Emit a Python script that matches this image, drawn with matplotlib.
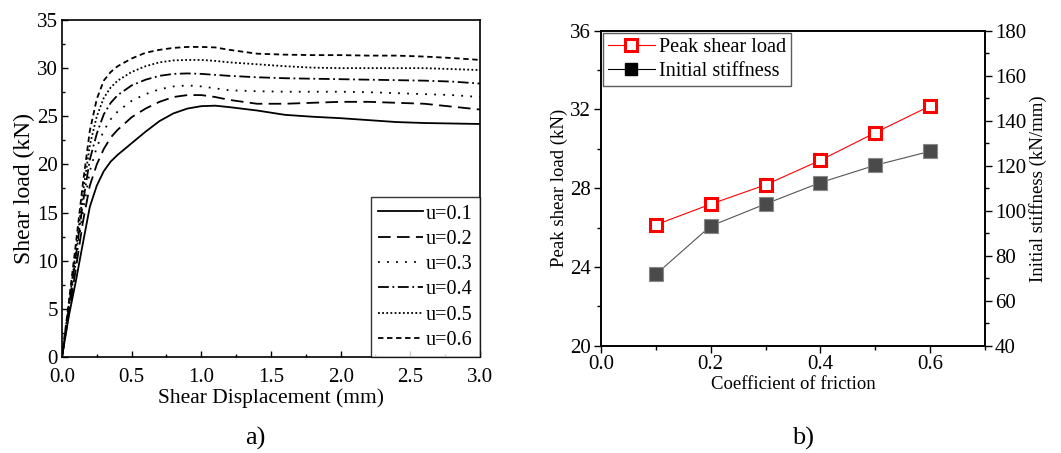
import matplotlib.pyplot as plt
from matplotlib.ticker import MultipleLocator

plt.rcParams['font.family'] = ['Liberation Serif', 'DejaVu Serif']

# a) load-displacement curves
disp = [0, 0.05, 0.1, 0.15, 0.2, 0.25, 0.3, 0.35, 0.4, 0.5, 0.6, 0.7, 0.8, 0.9,
        1.0, 1.1, 1.2, 1.4, 1.6, 1.8, 2.0, 2.2, 2.4, 2.6, 2.8, 3.0]
load_u01 = [0, 4.3, 7.9, 11.8, 15.6, 17.8, 19.3, 20.3, 21.0, 22.2, 23.4, 24.5, 25.3, 25.8,
            26.05, 26.1, 25.95, 25.6, 25.15, 24.95, 24.8, 24.6, 24.4, 24.3, 24.25, 24.2]
load_u02 = [0, 4.6, 9.2, 14.0, 17.8, 20.0, 21.6, 22.8, 23.6, 24.9, 25.8, 26.5, 27.0, 27.2,
            27.2, 27.0, 26.7, 26.3, 26.3, 26.4, 26.5, 26.5, 26.4, 26.3, 26.0, 25.7]
load_u03 = [0, 5.0, 10.0, 15.0, 19.3, 21.8, 23.5, 24.7, 25.5, 26.6, 27.3, 27.8, 28.1, 28.2,
            28.1, 27.9, 27.7, 27.6, 27.55, 27.55, 27.55, 27.5, 27.4, 27.3, 27.2, 27.0]
load_u04 = [0, 5.2, 10.5, 16.0, 20.5, 23.2, 25.2, 26.4, 27.2, 28.2, 28.8, 29.2, 29.4, 29.45,
            29.4, 29.3, 29.2, 29.05, 28.95, 28.9, 28.85, 28.8, 28.75, 28.7, 28.6, 28.4]
load_u05 = [0, 5.5, 11.0, 17.0, 22.0, 25.0, 26.9, 28.0, 28.7, 29.6, 30.2, 30.6, 30.8, 30.85,
            30.85, 30.75, 30.6, 30.4, 30.2, 30.05, 30.0, 30.0, 30.0, 30.0, 29.9, 29.8]
load_u06 = [0, 5.8, 11.8, 18.0, 23.5, 26.8, 28.7, 29.6, 30.2, 31.0, 31.6, 31.9, 32.1, 32.2,
            32.2, 32.15, 31.9, 31.5, 31.4, 31.35, 31.35, 31.3, 31.3, 31.2, 31.05, 30.85]
curve_labels = ['u=0.1', 'u=0.2', 'u=0.3', 'u=0.4', 'u=0.5', 'u=0.6']

# b) summary vs friction coefficient
friction = [0.1, 0.2, 0.3, 0.4, 0.5, 0.6]
peak_load = [26.14, 27.19, 28.17, 29.42, 30.82, 32.18]
stiffness = [71.7, 93.2, 103.0, 112.5, 120.2, 126.4]

fig = plt.figure(figsize=(10.61, 4.53), dpi=100)

# ---- panel a
ax1 = fig.add_axes([0.0584, 0.2119, 0.394, 0.744])
styles = ['-', (0, (7, 3.5)), (0, (1, 4)), (0, (6, 2, 1, 2)), (0, (1, 1.3)), (0, (3, 2))]
curves = [load_u01, load_u02, load_u03, load_u04, load_u05, load_u06]
for c, ls, lab in zip(curves, styles, curve_labels):
    ax1.plot(disp, c, color='black', linestyle=ls, lw=1.3, label=lab)
ax1.set_xlim(0, 3.0)
ax1.set_ylim(0, 35)
ax1.xaxis.set_minor_locator(MultipleLocator(0.25))
ax1.yaxis.set_major_locator(MultipleLocator(5))
ax1.yaxis.set_minor_locator(MultipleLocator(2.5))
ax1.set_xticks([0, 0.5, 1.0, 1.5, 2.0, 2.5, 3.0])
ax1.set_xticklabels(['0.0', '0.5', '1.0', '1.5', '2.0', '2.5', '3.0'])
ax1.tick_params(which='both', direction='in', labelsize=15, width=1)
ax1.tick_params(which='major', length=4, pad=3)
ax1.tick_params(axis='x', which='major', pad=8)
ax1.tick_params(which='minor', length=2.5)
for s in ax1.spines.values():
    s.set_linewidth(1.2)
ax1.set_xlabel('Shear Displacement (mm)', fontsize=15.5, labelpad=1)
ax1.set_ylabel('Shear load (kN)', fontsize=17, labelpad=1)
leg1 = ax1.legend(loc='lower right', fontsize=14.6, frameon=True, fancybox=False,
                  edgecolor='black', borderaxespad=0, handlelength=2.2,
                  labelspacing=0.3, handletextpad=0.15, borderpad=0.35)
leg1.get_frame().set_linewidth(1.0)

# ---- panel b
ax2 = fig.add_axes([0.5664, 0.2369, 0.362, 0.6953])
ax3 = ax2.twinx()
l1, = ax2.plot(friction, peak_load, color='red', lw=0.8, marker='s', markersize=9,
               markerfacecolor='white', markeredgecolor='red', markeredgewidth=2.2,
               label='Peak shear load')
l2, = ax3.plot(friction, stiffness, color='#555555', lw=0.8, marker='s', markersize=10,
               markerfacecolor='#4a4a4a', markeredgecolor='#888888', markeredgewidth=0.8,
               label='Initial stiffness')
ax2.set_xlim(0, 0.7)
ax2.set_ylim(20, 36)
ax3.set_ylim(40, 180)
ax2.xaxis.set_minor_locator(MultipleLocator(0.1))
ax2.yaxis.set_major_locator(MultipleLocator(4))
ax2.yaxis.set_minor_locator(MultipleLocator(2))
ax3.yaxis.set_major_locator(MultipleLocator(20))
ax3.yaxis.set_minor_locator(MultipleLocator(10))
ax2.set_xticks([0, 0.2, 0.4, 0.6])
ax2.set_xticklabels(['0.0', '0.2', '0.4', '0.6'])
for a in (ax2, ax3):
    a.tick_params(which='both', direction='out', labelsize=15, width=1)
    a.tick_params(which='major', length=5, pad=2)
    a.tick_params(which='minor', length=3)
    for s in a.spines.values():
        s.set_linewidth(1.2)
ax2.set_xlabel('Coefficient of friction', fontsize=13.5, labelpad=1)
ax2.set_ylabel('Peak shear load (kN)', fontsize=13.5, labelpad=2)
ax3.set_ylabel('Initial stiffness (kN/mm)', fontsize=13.5, labelpad=2)

legend_stiff = plt.Line2D([], [], color='black', lw=0.8, marker='s', markersize=9,
                          markerfacecolor='black', markeredgecolor='black')
leg2 = ax2.legend([l1, legend_stiff], ['Peak shear load', 'Initial stiffness'],
                  loc='upper left', fontsize=14.6, frameon=True, fancybox=False,
                  edgecolor='#333333', borderaxespad=0.1, handlelength=2.3,
                  labelspacing=0.25, handletextpad=0.2, borderpad=0.25)
leg2.get_frame().set_linewidth(1.0)

fig.text(0.241, 0.033, 'a)', fontsize=19, ha='center', va='center')
fig.text(0.757, 0.033, 'b)', fontsize=19, ha='center', va='center')

plt.savefig('out.png', dpi=100)
